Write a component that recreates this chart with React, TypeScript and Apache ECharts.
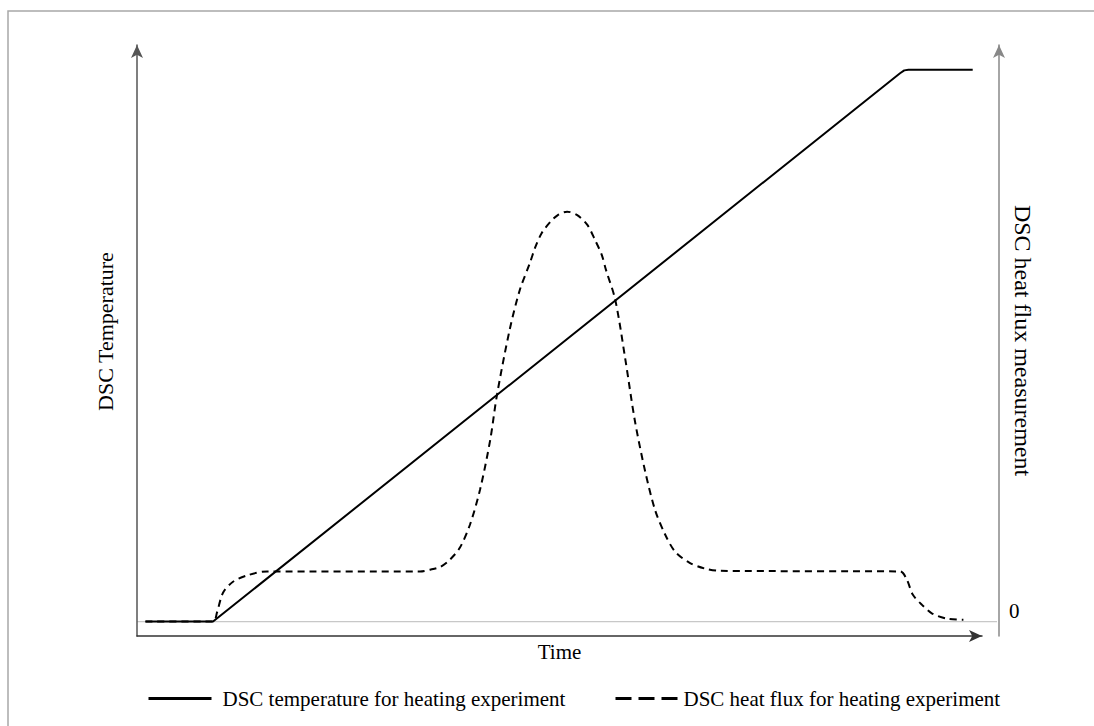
import React, { useEffect, useRef } from "react";
import * as echarts from "echarts";

// time (arbitrary units 0-100) and normalised signal values
const tempTime = [1, 9, 90.3, 90.8, 91.3, 98.9];
const tempValue = [0, 0, 0.951, 0.956, 0.957, 0.957];

const fluxTime = [
  1, 9, 9.47, 10.18, 11.36, 13.0, 15.4, 33.5, 34.7, 35.9, 37.0, 38.2, 39.4, 40.6,
  41.8, 42.6, 44.1, 45.3, 46.5, 47.1, 47.9, 48.9, 49.8, 50.9, 52.1, 53.3, 54.2,
  55.0, 55.5, 56.6, 57.8, 58.9, 60.1, 61.3, 62.5, 63.7, 65.4, 67.2, 69.0, 90.3,
  91.1, 91.8, 92.9, 94.1, 95.9, 97.8,
];
const fluxValue = [
  0, 0, 0.016, 0.05, 0.069, 0.08, 0.087, 0.087, 0.09, 0.095, 0.107, 0.128, 0.168,
  0.229, 0.315, 0.393, 0.506, 0.575, 0.622, 0.648, 0.674, 0.693, 0.705, 0.711,
  0.705, 0.688, 0.662, 0.636, 0.61, 0.558, 0.454, 0.35, 0.263, 0.194, 0.151,
  0.121, 0.102, 0.092, 0.088, 0.087, 0.073, 0.047, 0.029, 0.014, 0.005, 0.003,
];

const seriesNames = [
  "DSC temperature for heating experiment",
  "DSC heat flux for heating experiment",
];
const axisTitles = { x: "Time", left: "DSC Temperature", right: "DSC heat flux measurement" };
const rightTickValues = [0];

const FONT = "Liberation Serif";

export default function App() {
  const ref = useRef<HTMLDivElement>(null);
  useEffect(() => {
    document.body.style.margin = "0";
    const chart = echarts.init(ref.current!, null, { renderer: "svg" });
    const temp = tempTime.map((t, i) => [t, tempValue[i]]);
    const flux = fluxTime.map((t, i) => [t, fluxValue[i]]);
    const yBase = {
      type: "value" as const,
      min: -0.025,
      max: 1.0,
      splitLine: { show: false },
      axisTick: { show: false },
      nameMoveOverlap: false,
    };
    chart.setOption({
      animation: false,
      backgroundColor: "#fff",
      grid: { left: 137, right: 112, top: 45, bottom: 90 },
      xAxis: {
        type: "value",
        min: 0,
        max: 100,
        name: axisTitles.x,
        nameLocation: "middle",
        nameGap: 5,
        nameMoveOverlap: false,
        nameTextStyle: {
          fontFamily: FONT,
          fontSize: 21,
          color: "#000",
          verticalAlign: "top",
          padding: [0, 0, 0, 0],
        },
        axisLine: {
          onZero: false,
          lineStyle: { color: "#333", width: 1.5 },
          symbol: ["none", "arrow"],
          symbolSize: [9, 13],
        },
        axisTick: { show: false },
        axisLabel: { show: false },
        splitLine: { show: false },
      },
      yAxis: [
        {
          ...yBase,
          position: "left",
          name: axisTitles.left,
          nameLocation: "middle",
          nameRotate: 90,
          nameGap: 21,
          nameTextStyle: {
            fontFamily: FONT,
            fontSize: 22,
            color: "#000",
            padding: [0, 0, 0, 18],
          },
          axisLine: {
            show: true,
            onZero: false,
            lineStyle: { color: "#555", width: 1.5 },
            symbol: ["none", "arrow"],
            symbolSize: [9, 13],
          },
          axisLabel: { show: false },
        },
        {
          ...yBase,
          position: "right",
          offset: 17,
          name: axisTitles.right,
          nameLocation: "middle",
          nameRotate: -90,
          nameGap: 12,
          nameTextStyle: { fontFamily: FONT, fontSize: 24, color: "#000" },
          axisLine: {
            show: true,
            onZero: false,
            lineStyle: { color: "#888", width: 1.5 },
            symbol: ["none", "arrow"],
            symbolSize: [9, 13],
          },
          axisLabel: {
            show: true,
            customValues: rightTickValues,
            fontFamily: FONT,
            fontSize: 21,
            color: "#000",
            margin: 10,
            verticalAlign: "bottom",
          },
        },
      ],
      legend: [
        {
          left: 142,
          top: 683,
          data: [
            { name: seriesNames[0], lineStyle: { width: 3 }, itemStyle: { opacity: 0 } },
          ],
          itemWidth: 63,
          itemHeight: 14,
          textStyle: { fontFamily: FONT, fontSize: 21, color: "#000", padding: [0, 0, 0, 6] },
        },
        {
          left: 609,
          top: 683,
          data: [
            {
              name: seriesNames[1],
              lineStyle: { width: 3, type: [16, 7] },
              itemStyle: { opacity: 0 },
            },
          ],
          itemWidth: 62,
          itemHeight: 14,
          textStyle: { fontFamily: FONT, fontSize: 21, color: "#000", padding: [0, 0, 0, 1] },
        },
      ],
      series: [
        {
          name: seriesNames[0],
          type: "line",
          yAxisIndex: 0,
          data: temp,
          symbol: "none",
          lineStyle: { color: "#000", width: 2 },
          itemStyle: { color: "#000" },
        },
        {
          name: seriesNames[1],
          type: "line",
          yAxisIndex: 1,
          data: flux,
          symbol: "none",
          smooth: 0.3,
          lineStyle: { color: "#000", width: 2, type: [7, 5] },
          itemStyle: { color: "#000" },
        },
      ],
    });
    const zeroY = chart.convertToPixel({ yAxisIndex: 1 }, 0) as number;
    const x0 = chart.convertToPixel({ xAxisIndex: 0 }, 0) as number;
    const x1 = chart.convertToPixel({ xAxisIndex: 0 }, 100) as number;
    chart.setOption({
      graphic: [
        {
          type: "line",
          silent: true,
          z: -1,
          shape: { x1: x0, y1: zeroY, x2: x1 + 15, y2: zeroY },
          style: { stroke: "#c8c8c8", lineWidth: 1.2 },
        },
        {
          type: "polyline",
          silent: true,
          shape: { points: [[8, 726], [8, 11], [1094, 11]] },
          style: { stroke: "#a8a8a8", lineWidth: 1.5, fill: "none" },
        },
      ],
    });
    return () => chart.dispose();
  }, []);
  return <div ref={ref} style={{ width: 1094, height: 726 }} />;
}
